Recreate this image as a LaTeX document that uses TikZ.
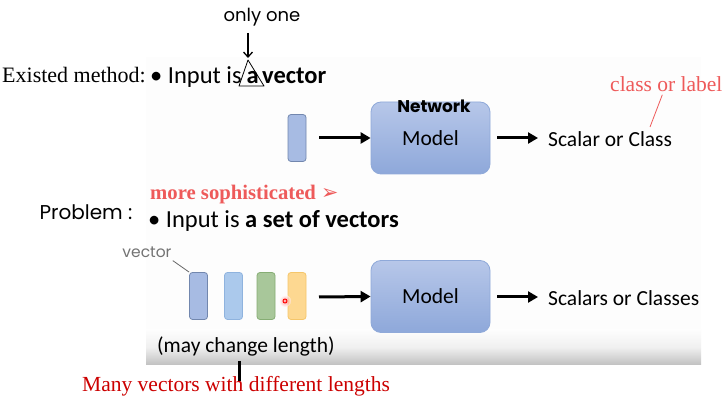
\documentclass[tikz,border=0pt]{standalone}
\usepackage{fontspec}
\setmainfont{Liberation Serif}
\newfontfamily\slidefont{Carlito}
\newfontfamily\handfont{Poppins}
\newfontfamily\symfont{DejaVu Sans}
\usetikzlibrary{arrows.meta}
\definecolor{slidered}{HTML}{EE5A5A}
\definecolor{darkred}{HTML}{CC0000}
\definecolor{boxtop}{HTML}{B7C7E9}
\definecolor{boxbot}{HTML}{8EA8DA}
\definecolor{boxline}{HTML}{8FA9D9}
\definecolor{slidebg}{HTML}{FDFDFD}
\tikzset{
  bigtxt/.style={font=\slidefont\fontsize{24.5}{28}\selectfont, inner sep=0pt, anchor=base west},
  slidetxt/.style={font=\slidefont\fontsize{21.5}{25}\selectfont, inner sep=0pt, anchor=west},
  modelbox/.style={rounded corners=10pt, draw=boxline, line width=0.8pt, top color=boxtop, bottom color=boxbot, minimum width=119pt, minimum height=72pt, font=\slidefont\fontsize{21.5}{25}\selectfont},
  vecbox/.style={rounded corners=3pt, line width=0.8pt, minimum width=18pt, minimum height=47pt, inner sep=0pt},
  fatarrow/.style={line width=3pt, -{Triangle[length=10pt,width=11pt]}},
  hand/.style={font=\handfont\fontsize{17}{20}\selectfont, inner sep=0pt},
}
\begin{document}
\begin{tikzpicture}[x=1pt,y=-1pt]
\useasboundingbox (0,0) rectangle (726,403);
\fill[white] (0,0) rectangle (726,403);
% slide background
\fill[slidebg] (146,57) rectangle (701,364.5);
\shade[top color=slidebg, bottom color=black!24, middle color=black!6] (146,330) rectangle (701,364.5);

% top row
\node[font=\fontsize{22}{25}\selectfont, inner sep=0pt, anchor=base west] (existed) at (2,83) {Existed method:};
\node[bigtxt] (in1) at (150,84) {\textbullet\ Input is};
\node[bigtxt, font=\slidefont\bfseries\fontsize{24.5}{28}\selectfont] (a) at (246.5,84) {a};
\node[bigtxt, font=\slidefont\bfseries\fontsize{24.5}{28}\selectfont] (vec) at (262,84) {vector};
\node[hand, font=\handfont\fontsize{18}{20}\selectfont] (only) at (262,17) {only one};
\coordinate (onlyarr) at (248,33);
\coordinate (aTop) at (248,58);
\draw[line width=1.3pt, -{Straight Barb[length=5pt,width=9pt]}] (onlyarr) -- (aTop);
\draw[line width=0.8pt, line join=round] (248,60) -- (239,86) -- (264,86) -- cycle;

\node[vecbox, fill=boxtop!60!boxbot, draw=boxline!80!black] (v0) at (297,138) {};
\node[modelbox] (m1) at (430.5,138) {Model};
\node[font=\handfont\bfseries\fontsize{17}{20}\selectfont, inner sep=0pt] (net) at (434,106) {Network};
\node[slidetxt] (out1) at (548,139) {Scalar or Class};
\node[font=\fontsize{21.5}{25}\selectfont, text=slidered, inner sep=0pt, anchor=west] (cls) at (610,84) {class or label};
\draw[slidered, line width=0.8pt] (cls.south) ++(-4,3) coordinate (c1) -- (650,127);

% second row
\node[hand, font=\handfont\fontsize{20}{24}\selectfont] (prob) at (86,212) {Problem :};
\node[font=\bfseries\fontsize{20.7}{24}\selectfont, text=slidered, inner sep=0pt, anchor=west] (soph) at (150,195) {more sophisticated {\symfont\mdseries ➢}};
\node[bigtxt] (in2) at (148,228) {\textbullet\ Input is \textbf{a set of vectors}};

\node[hand, text=black!55, font=\handfont\fontsize{15.5}{18}\selectfont] (veclab) at (147,252) {vector};
\node[vecbox, fill=boxtop!60!boxbot, draw=boxline!80!black] (w1) at (198.5,296) {};
\node[vecbox, fill={rgb,255:red,171;green,201;blue,236}, draw={rgb,255:red,143;green,179;blue,222}] (w2) at (233.5,296) {};
\node[vecbox, fill={rgb,255:red,168;green,199;blue,154}, draw={rgb,255:red,134;green,173;blue,116}] (w3) at (266,296) {};
\node[vecbox, fill={rgb,255:red,253;green,216;blue,145}, draw={rgb,255:red,245;green,198;blue,106}] (w4) at (297,296) {};
\draw[black!60, line width=0.8pt] (veclab.south east) ++(1,3) -- (w1.north west);
\shade[inner color=red!60, outer color=white, opacity=0.6] (285,301) circle (6pt);
\draw[red, line width=0.9pt] (285,301) circle (2pt);

\node[modelbox] (m2) at (430.5,296.5) {Model};
\node[slidetxt] (out2) at (548,298) {Scalars or Classes};
\node[slidetxt] (may) at (157,346) {(may change length)};
\node[font=\fontsize{21.5}{25}\selectfont, text=darkred, inner sep=0pt, anchor=west] (many) at (82,386) {Many vectors with different lengths};
\draw[line width=2.4pt] (239.5,361) -- (239.5,381);

% arrows
\draw[fatarrow] (319,138) -- (m1.west);
\draw[fatarrow] (497,138) -- (538,138);
\draw[fatarrow] (319,297) -- (m2.west);
\draw[fatarrow] (497,297) -- (538,297);
\end{tikzpicture}
\end{document}
